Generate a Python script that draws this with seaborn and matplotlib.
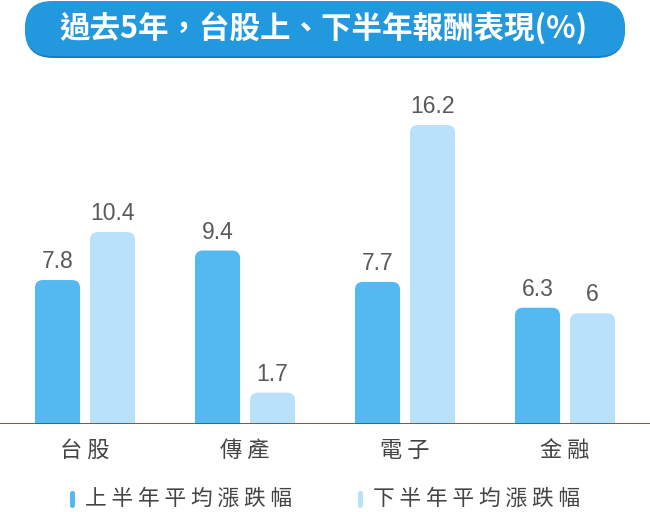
import matplotlib
matplotlib.use('Agg')
import matplotlib.pyplot as plt
import seaborn as sns
import pandas as pd
from matplotlib.patches import FancyBboxPatch

categories = ['台股', '傳產', '電子', '金融']
series_names = ['上半年平均漲跌幅', '下半年平均漲跌幅']
first_half = [7.8, 9.4, 7.7, 6.3]
second_half = [10.4, 1.7, 16.2, 6.0]
title = '過去5年，台股上、下半年報酬表現(%)'
colors = ['#55B9F1', '#BAE1FC']

df = pd.DataFrame({
    'cat': categories * 2,
    'series': [series_names[0]] * len(categories) + [series_names[1]] * len(categories),
    'value': first_half + second_half,
})

sns.set_theme(style='white')
plt.rcParams['font.family'] = ['Noto Sans CJK TC', 'DejaVu Sans']

W, H = 650, 512
fig = plt.figure(figsize=(W / 100, H / 100), dpi=100)
fig.patch.set_facecolor('white')
ax = fig.add_axes([0, (H - 424) / H, 1, (424 - 70) / H])
ax.set_facecolor('none')

sns.barplot(data=df, x='cat', y='value', hue='series', hue_order=series_names,
            palette=colors, saturation=1, width=0.6875, gap=0.18,
            ax=ax, legend=False, errorbar=None)

ax.set_xlim(-85 / 160, 3 + 85 / 160)
ax.set_ylim(0, 19.18)

for cont in ax.containers:
    ax.bar_label(cont, fmt='{:g}', padding=5, fontsize=16.5, color='#595959',
                 family=['Liberation Sans', 'DejaVu Sans'])

fig.canvas.draw()
p0 = ax.transData.transform((0, 0))
p1 = ax.transData.transform((1, 1))
px_x = p1[0] - p0[0]
px_y = p1[1] - p0[1]
aspect = px_x / px_y
r = 8 / px_x
for p in list(ax.patches):
    x, w, h = p.get_x(), p.get_width(), p.get_height()
    fc = p.get_facecolor()
    p.remove()
    fb = FancyBboxPatch((x, -2), w, h + 2,
                        boxstyle=f'round,pad=0,rounding_size={r}',
                        mutation_aspect=aspect, fc=fc, ec='none')
    ax.add_patch(fb)

ax.axhline(0, color='#7A4A1E', lw=2, zorder=5)
for s in ax.spines.values():
    s.set_visible(False)
ax.set_yticks([])
ax.set_xlabel('')
ax.set_ylabel('')
ax.set_xticks(range(len(categories)))
ax.set_xticklabels([' '.join(c) for c in categories], fontsize=16, color='#444444')
ax.tick_params(axis='x', length=0, pad=11)

# Title pill
tr = fig.dpi_scale_trans
shadow = FancyBboxPatch((25 / 100, (H - 58) / 100), 600 / 100, 56 / 100,
                        boxstyle='round,pad=0,rounding_size=0.28',
                        fc='#1A7CC4', ec='none', transform=tr, zorder=1)
pill = FancyBboxPatch((25 / 100, (H - 56) / 100), 600 / 100, 55 / 100,
                      boxstyle='round,pad=0,rounding_size=0.27',
                      fc='#2299DE', ec='none', transform=tr, zorder=2)
fig.patches.extend([shadow, pill])
fig.text(323 / W, 1 - 28 / H, title, ha='center', va='center', fontsize=22,
         color='white', fontweight='bold', zorder=3,
         family=['Noto Sans CJK TC', 'DejaVu Sans'])

# Legend
leg_marker_x = [70, 358]
leg_text_x = [85, 373]
for i, name in enumerate(series_names):
    m = FancyBboxPatch((leg_marker_x[i] / 100, (H - 508) / 100), 5 / 100, 17 / 100,
                       boxstyle='round,pad=0,rounding_size=0.025',
                       fc=colors[i], ec='none', transform=tr)
    fig.patches.append(m)
    fig.text(leg_text_x[i] / W, 1 - 499 / H, ' '.join(name), ha='left', va='center',
             fontsize=15.6, color='#444444')

fig.savefig('out.png', dpi=100)
